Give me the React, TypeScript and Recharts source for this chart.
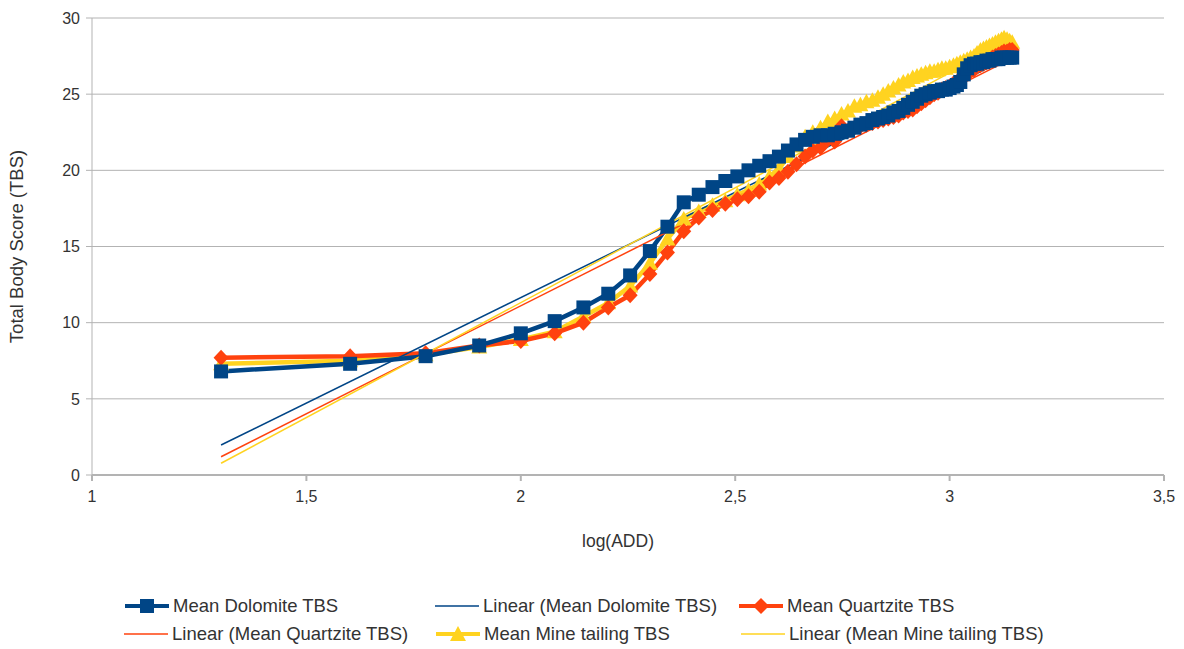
import React from "react";
import { ComposedChart, Line, XAxis, YAxis, CartesianGrid, Label } from "recharts";

// log10 of accumulated degree days (ADD steps of 20)
const logADD = [
  1.301, 1.602, 1.778, 1.903, 2.0, 2.079, 2.146, 2.204, 2.255, 2.301,
  2.342, 2.38, 2.415, 2.447, 2.477, 2.505, 2.531, 2.556, 2.58, 2.602,
  2.623, 2.643, 2.663, 2.681, 2.699, 2.716, 2.732, 2.748, 2.763, 2.778,
  2.792, 2.806, 2.82, 2.833, 2.845, 2.857, 2.869, 2.881, 2.892, 2.903,
  2.914, 2.924, 2.934, 2.944, 2.954, 2.964, 2.973, 2.982, 2.991, 3.0,
  3.009, 3.017, 3.025, 3.033, 3.041, 3.049, 3.057, 3.064, 3.072, 3.079,
  3.086, 3.093, 3.1, 3.107, 3.114, 3.121, 3.127, 3.134, 3.14, 3.146,
];

const dolomite = [
  6.8, 7.3, 7.8, 8.5, 9.3, 10.1, 11.0, 11.9, 13.1, 14.7,
  16.3, 17.9, 18.4, 18.9, 19.3, 19.6, 20.0, 20.3, 20.6, 20.9,
  21.3, 21.7, 22.0, 22.2, 22.3, 22.3, 22.4, 22.5, 22.6, 22.8,
  23.0, 23.1, 23.3, 23.4, 23.5, 23.6, 23.8, 23.9, 24.1, 24.3,
  24.5, 24.7, 24.9, 25.0, 25.1, 25.2, 25.2, 25.3, 25.3, 25.4,
  25.5, 25.6, 25.8, 26.3, 26.7, 26.9, 27.0, 27.0, 27.1, 27.1,
  27.2, 27.2, 27.3, 27.3, 27.3, 27.4, 27.4, 27.4, 27.4, 27.4,
];

const quartzite = [
  7.7, 7.8, 8.0, 8.5, 8.8, 9.3, 10.0, 11.0, 11.8, 13.2,
  14.6, 16.0, 16.9, 17.4, 17.8, 18.1, 18.3, 18.6, 19.2, 19.5,
  19.9, 20.4, 20.9, 21.3, 21.5, 22.0, 21.9, 22.9, 22.6, 22.8,
  22.9, 23.0, 23.1, 23.2, 23.3, 23.4, 23.5, 23.6, 23.8, 23.9,
  24.0, 24.2, 24.4, 24.6, 24.8, 25.0, 25.1, 25.3, 25.4, 25.5,
  25.7, 25.8, 26.0, 26.2, 26.4, 26.5, 26.6, 26.8, 26.9, 27.0,
  27.1, 27.2, 27.4, 27.5, 27.6, 27.7, 27.8, 27.8, 27.9, 27.9,
];

const mineTailing = [
  7.3, 7.5, 7.9, 8.4, 8.9, 9.4, 10.4, 11.3, 12.4, 13.9,
  15.5, 16.8, 17.3, 17.7, 18.0, 18.4, 18.7, 19.1, 19.6, 20.1,
  20.9, 21.6, 22.2, 22.5, 22.8, 23.2, 23.4, 23.7, 23.9, 24.2,
  24.3, 24.5, 24.6, 24.8, 25.0, 25.2, 25.4, 25.6, 25.8, 25.9,
  26.1, 26.2, 26.3, 26.4, 26.5, 26.5, 26.6, 26.7, 26.7, 26.8,
  26.9, 27.0, 27.1, 27.2, 27.3, 27.4, 27.5, 27.7, 27.9, 28.0,
  28.1, 28.2, 28.3, 28.4, 28.5, 28.6, 28.7, 28.6, 28.5, 28.4,
];

// linear trend line end points
const trendX = [1.301, 3.146];
const dolomiteTrend = [1.97, 27.5];
const quartziteTrend = [1.2, 27.35];
const mineTailingTrend = [0.77, 28.6];

const xTicks = [1, 1.5, 2, 2.5, 3, 3.5];
const yTicks = [0, 5, 10, 15, 20, 25, 30];

const BLUE = "#004586";
const ORANGE = "#ff420e";
const YELLOW = "#ffd320";
const TEXT = "#333";
const FONT = "'Liberation Sans', Arial, sans-serif";

const toPoints = (ys: number[]) => ys.map((y, i) => ({ x: logADD[i], y }));
const toTrend = (ys: number[]) => ys.map((y, i) => ({ x: trendX[i], y }));

const dolomiteData = toPoints(dolomite);
const quartziteData = toPoints(quartzite);
const mineData = toPoints(mineTailing);

const SquareDot = (p: any) => {
  if (p.cx == null || p.cy == null) return <g key={p.index} />;
  return <rect key={p.index} x={p.cx - 7} y={p.cy - 7} width={14} height={14} fill={BLUE} />;
};

const DiamondDot = (p: any) => {
  if (p.cx == null || p.cy == null) return <g key={p.index} />;
  const { cx, cy } = p;
  return (
    <polygon
      key={p.index}
      points={`${cx},${cy - 8} ${cx + 7.5},${cy} ${cx},${cy + 8} ${cx - 7.5},${cy}`}
      fill={ORANGE}
    />
  );
};

const TriangleDot = (p: any) => {
  if (p.cx == null || p.cy == null) return <g key={p.index} />;
  const { cx, cy } = p;
  return (
    <polygon
      key={p.index}
      points={`${cx},${cy - 8} ${cx + 8},${cy + 6.5} ${cx - 8},${cy + 6.5}`}
      fill={YELLOW}
    />
  );
};

const legendItems = [
  { label: "Mean Dolomite TBS", color: BLUE, marker: "square", left: 125, top: 595 },
  { label: "Linear (Mean Dolomite TBS)", color: BLUE, marker: "none", left: 435, top: 595 },
  { label: "Mean Quartzite TBS", color: ORANGE, marker: "diamond", left: 739, top: 595 },
  { label: "Linear (Mean Quartzite TBS)", color: ORANGE, marker: "none", left: 124, top: 623 },
  { label: "Mean Mine tailing TBS", color: YELLOW, marker: "triangle", left: 436, top: 623 },
  { label: "Linear (Mean Mine tailing TBS)", color: YELLOW, marker: "none", left: 741, top: 623 },
];

function LegendIcon({ color, marker }: { color: string; marker: string }) {
  return (
    <svg width={44} height={18} style={{ marginRight: 4 }}>
      <line x1={0} y1={9} x2={44} y2={9} stroke={color} strokeWidth={marker === "none" ? 1.5 : 4} />
      {marker === "square" && <rect x={15} y={2} width={14} height={14} fill={color} />}
      {marker === "diamond" && <polygon points="22,1 30,9 22,17 14,9" fill={color} />}
      {marker === "triangle" && <polygon points="22,1 30,16 14,16" fill={color} />}
    </svg>
  );
}

export default function App() {
  return (
    <div style={{ position: "absolute", left: 0, top: 0, width: 1184, height: 649, background: "#fff", fontFamily: FONT }}>
      <ComposedChart
        width={1184}
        height={649}
        margin={{ top: 18, right: 20, left: 0, bottom: 99 }}
      >
        <CartesianGrid horizontal vertical={false} stroke="#b3b3b3" strokeWidth={1} />
        <XAxis
          type="number"
          dataKey="x"
          domain={[1, 3.5]}
          ticks={xTicks}
          allowDataOverflow
          tickFormatter={(v) => String(v).replace(".", ",")}
          tick={{ fill: TEXT, fontSize: 16, fontFamily: FONT }}
          stroke="#b3b3b3"
          strokeWidth={2}
          tickSize={6}
          tickMargin={10}
          height={75}
        >
          <Label value="log(ADD)" position="insideBottom" offset={3} dx={-10} style={{ fill: TEXT, fontSize: 17.5, fontFamily: FONT }} />
        </XAxis>
        <YAxis
          type="number"
          domain={[0, 30]}
          ticks={yTicks}
          tick={{ fill: TEXT, fontSize: 16, fontFamily: FONT }}
          stroke="#b3b3b3"
          strokeWidth={1}
          tickSize={6}
          tickMargin={6}
          width={92}
        >
          <Label
            value="Total Body Score (TBS)"
            angle={-90}
            position="insideLeft"
            offset={16}
            style={{ fill: TEXT, fontSize: 18.5, fontFamily: FONT, textAnchor: "middle" }}
          />
        </YAxis>
        <Line data={mineData} dataKey="y" stroke={YELLOW} strokeWidth={4.5} dot={TriangleDot} isAnimationActive={false} />
        <Line data={quartziteData} dataKey="y" stroke={ORANGE} strokeWidth={4.5} dot={DiamondDot} isAnimationActive={false} />
        <Line data={dolomiteData} dataKey="y" stroke={BLUE} strokeWidth={4.5} dot={SquareDot} isAnimationActive={false} />
        <Line data={toTrend(dolomiteTrend)} dataKey="y" stroke={BLUE} strokeWidth={1.5} dot={false} isAnimationActive={false} />
        <Line data={toTrend(quartziteTrend)} dataKey="y" stroke={ORANGE} strokeWidth={1.5} dot={false} isAnimationActive={false} />
        <Line data={toTrend(mineTailingTrend)} dataKey="y" stroke={YELLOW} strokeWidth={1.5} dot={false} isAnimationActive={false} />
      </ComposedChart>
      {legendItems.map((it) => (
        <div
          key={it.label}
          style={{
            position: "absolute",
            left: it.left,
            top: it.top,
            height: 22,
            display: "flex",
            alignItems: "center",
            fontSize: 18.5,
            color: TEXT,
            whiteSpace: "nowrap",
          }}
        >
          <LegendIcon color={it.color} marker={it.marker} />
          <span>{it.label}</span>
        </div>
      ))}
    </div>
  );
}
